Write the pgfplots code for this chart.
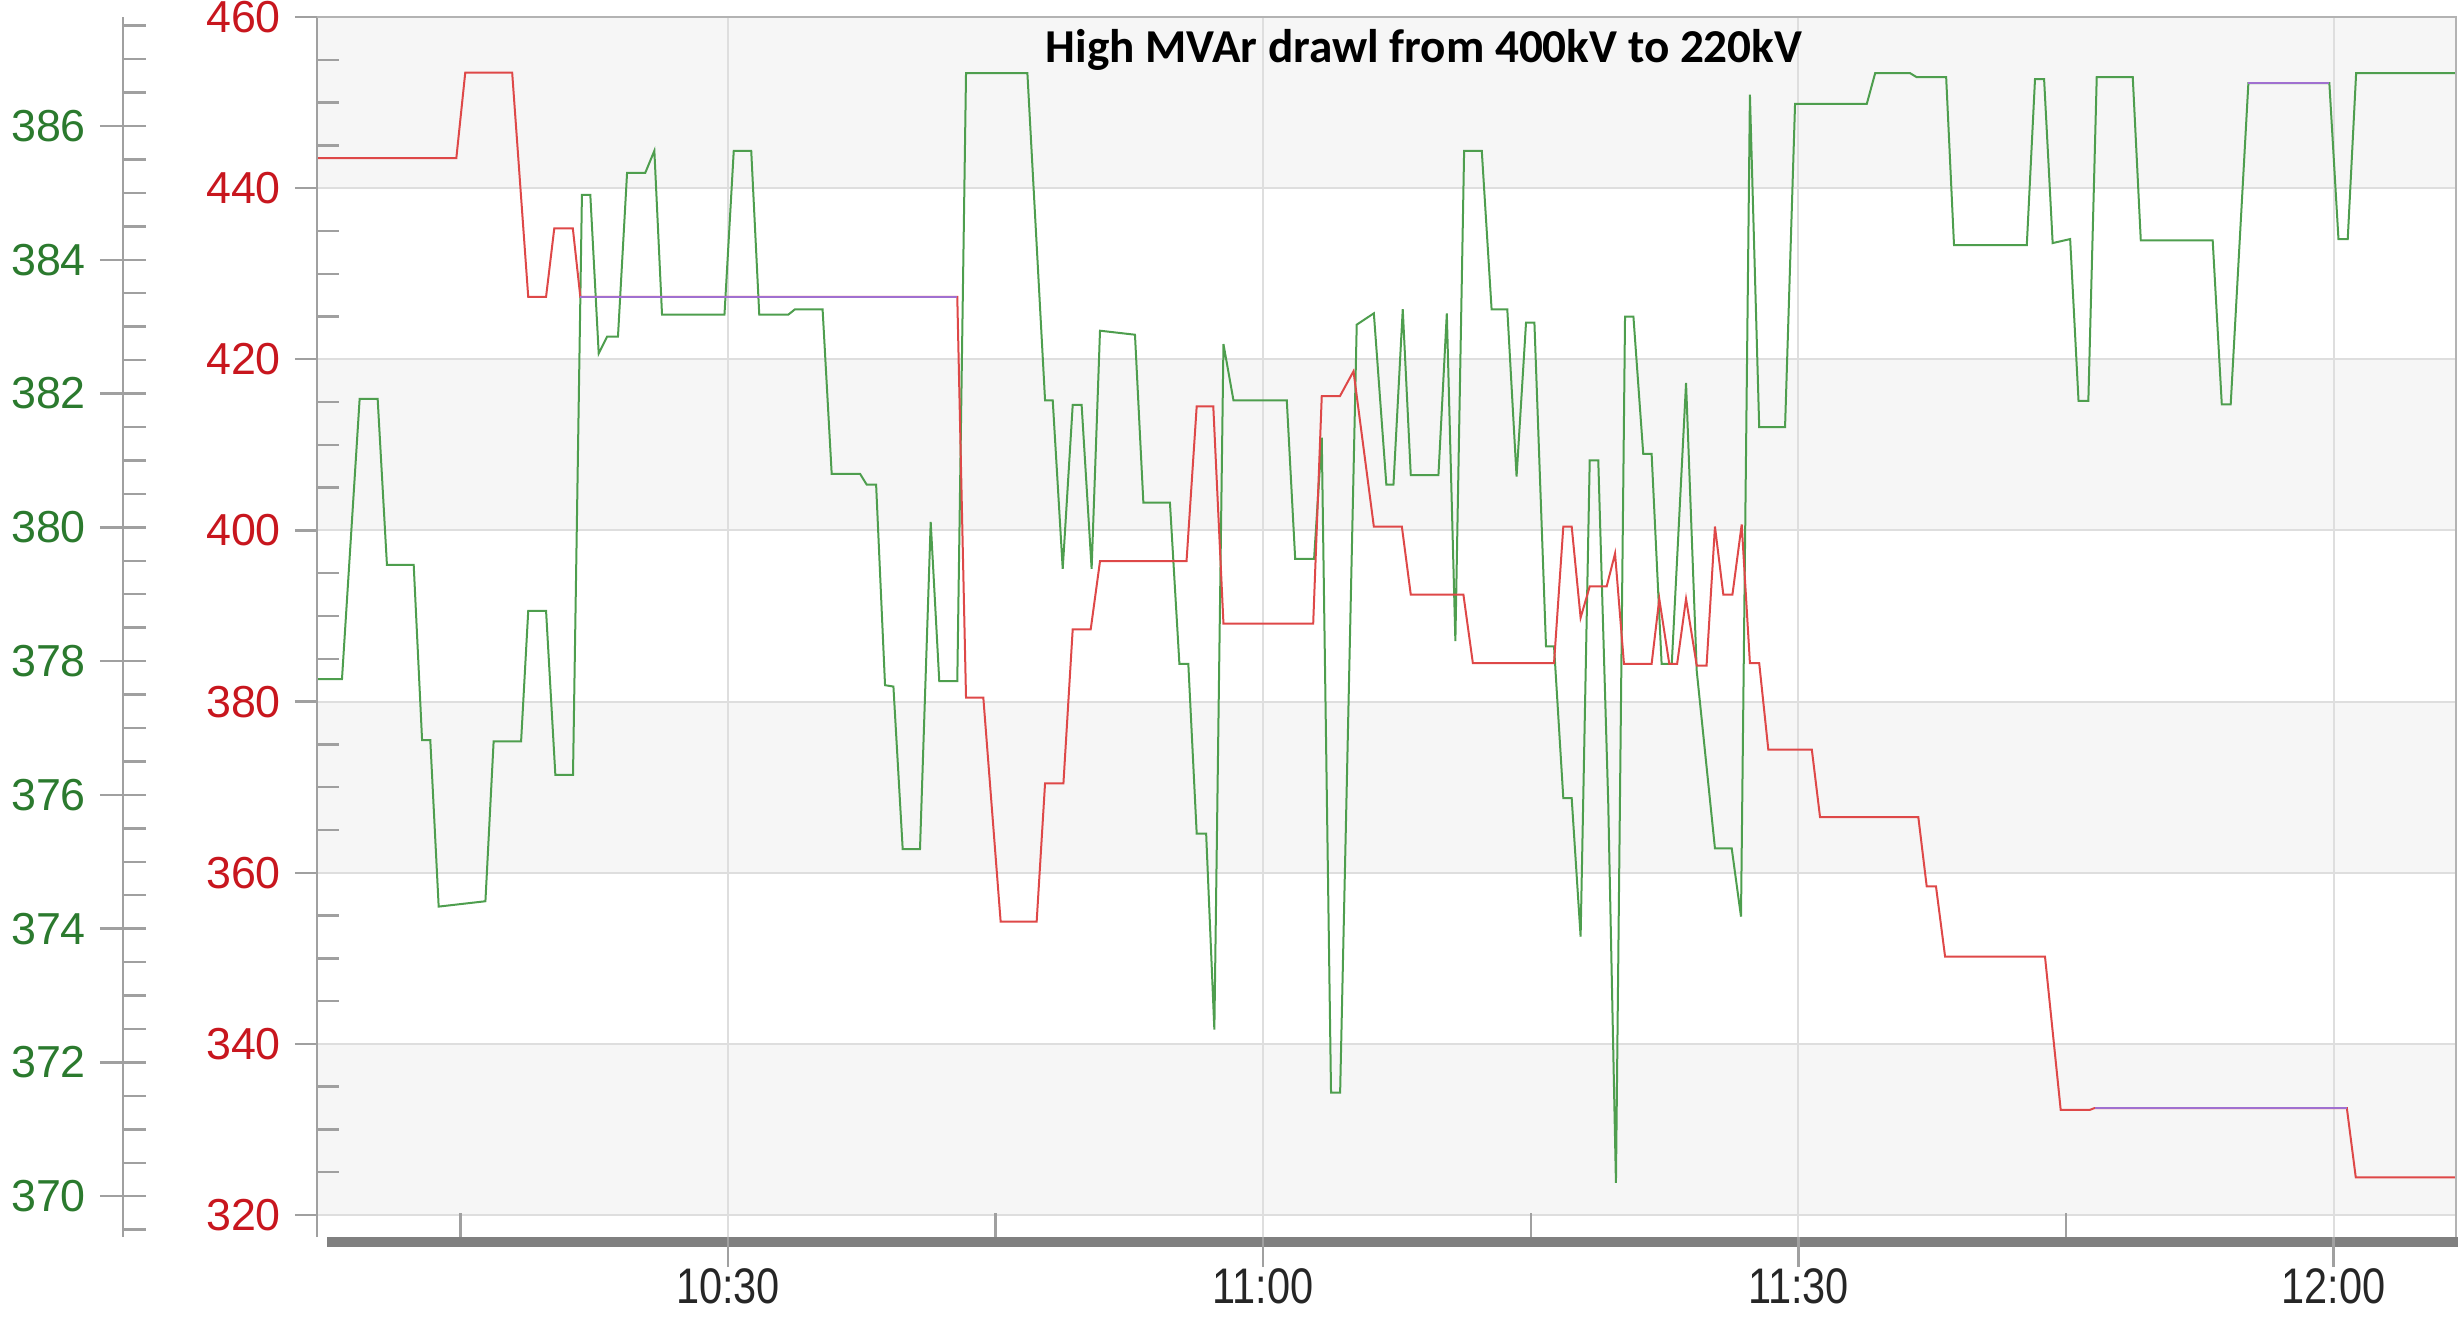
\documentclass[border=0pt]{standalone}
\usepackage{fontspec}
\setmainfont{Liberation Sans}
\newfontfamily\titlefont{Carlito}
\newfontfamily\narrowfont[FakeStretch=0.83]{Liberation Sans}
\usepackage{pgfplots}
\pgfplotsset{compat=1.18}

\definecolor{bandgray}{HTML}{F6F6F6}
\definecolor{gridgray}{HTML}{DEDEDE}
\definecolor{axisgray}{HTML}{A0A0A0}
\definecolor{barcol}{HTML}{808080}
\definecolor{redlab}{HTML}{C8161E}
\definecolor{greenlab}{HTML}{2B7A2E}
\definecolor{redline}{HTML}{DE4848}
\definecolor{greenline}{HTML}{4E9E4E}
\definecolor{purpleline}{HTML}{A070D0}

\pgfplotsset{
  base/.style={scale only axis, width=534.75pt, height=305pt, at={(79.25pt,20.5pt)}, anchor=south west, xmin=6.96, xmax=126.86, ymin=317.43, ymax=460},
  gbase/.style={scale only axis, width=534.75pt, height=305pt, at={(79.25pt,20.5pt)}, anchor=south west, xmin=6.96, xmax=126.86, ymin=369.39, ymax=387.63},
  labfont/.style={font=\fontsize{11.2}{13}\selectfont},
}

\begin{document}
\begin{tikzpicture}
\useasboundingbox (0,0) rectangle (614.5pt,329.75pt);

% background bands
\begin{axis}[base, hide axis]
\fill[bandgray] (axis cs:6.96,440) rectangle (axis cs:126.86,460);
\fill[bandgray] (axis cs:6.96,400) rectangle (axis cs:126.86,420);
\fill[bandgray] (axis cs:6.96,360) rectangle (axis cs:126.86,380);
\fill[bandgray] (axis cs:6.96,320) rectangle (axis cs:126.86,340);
\end{axis}

% grid
\begin{axis}[base, axis line style={draw=none}, tick style={draw=none},
  xtick={30,60,90,120}, ytick={320,340,...,460}, xticklabels={}, yticklabels={},
  xmajorgrids, ymajorgrids, major grid style={gridgray, line width=0.5pt}]
\end{axis}

% bottom bar
\fill[barcol] (81.75pt,18pt) rectangle (614.5pt,20.5pt);

% green data
\begin{axis}[gbase, hide axis]
\addplot[greenline, line width=0.5pt] coordinates {
(6.96,377.73) (8.36,377.73) (9.35,381.92) (10.36,381.92) (10.88,379.44) (12.38,379.44)
(12.85,376.82) (13.31,376.82) (13.78,374.33) (16.4,374.41) (16.86,376.8) (18.4,376.8)
(18.8,378.75) (19.8,378.75) (20.32,376.3) (21.31,376.3) (21.81,384.97) (22.28,384.97)
(22.75,382.6) (23.22,382.85) (23.83,382.85) (24.34,385.3) (25.36,385.3) (25.87,385.63)
(26.3,383.18) (29.8,383.18) (30.32,385.63) (31.3,385.63) (31.75,383.18) (33.38,383.18)
(33.75,383.26) (35.3,383.26) (35.81,380.8) (37.4,380.8) (37.77,380.64) (38.3,380.64)
(38.8,377.64) (39.27,377.62) (39.79,375.19) (40.76,375.19) (41.36,380.08) (41.84,377.7)
(42.85,377.7) (43.34,386.79) (46.78,386.79) (47.77,381.9) (48.2,381.9) (48.76,379.38)
(49.32,381.83) (49.82,381.83) (50.38,379.38) (50.85,382.94) (52.81,382.88) (53.28,380.37)
(54.77,380.37) (55.3,377.96) (55.8,377.96) (56.27,375.42) (56.8,375.42) (57.26,372.49)
(57.77,382.74) (58.33,381.9) (61.32,381.9) (61.79,379.53) (62.85,379.53) (63.28,381.34)
(63.8,371.55) (64.31,371.55) (65.24,383.03) (66.2,383.2) (66.9,380.64) (67.3,380.64)
(67.82,383.26) (68.27,380.78) (69.82,380.78) (70.29,383.2) (70.77,378.3) (71.26,385.63)
(72.25,385.63) (72.8,383.26) (73.68,383.26) (74.2,380.76) (74.73,383.06) (75.2,383.06)
(75.85,378.22) (76.3,378.22) (76.82,375.95) (77.29,375.95) (77.79,373.88) (78.3,381.0)
(78.78,381.0) (79.34,375.86) (79.77,370.2) (80.28,383.15) (80.75,383.15) (81.3,381.1)
(81.77,381.1) (82.33,377.96) (82.9,377.96) (83.7,382.16) (84.3,377.85) (85.32,375.2)
(86.26,375.2) (86.78,374.18) (87.28,386.47) (87.8,381.5) (89.25,381.5) (89.81,386.33)
(93.83,386.33) (94.3,386.79) (96.26,386.79) (96.63,386.73) (98.28,386.73) (98.72,384.22)
(102.8,384.22) (103.26,386.7) (103.77,386.7) (104.25,384.25) (105.23,384.31) (105.7,381.89)
(106.25,381.89) (106.72,386.73) (108.74,386.73) (109.19,384.29) (113.22,384.29) (113.73,381.84)
(114.23,381.84) (115.22,386.64) (119.76,386.64) (120.27,384.31) (120.79,384.31) (121.26,386.79)
(126.86,386.79)
};
\addplot[purpleline, line width=0.5pt] coordinates {(115.22,386.64) (119.76,386.64)};
\end{axis}

% red data
\begin{axis}[base, hide axis]
\addplot[redline, line width=0.5pt] coordinates {
(6.96,443.5) (14.77,443.5) (15.27,453.5) (17.9,453.5) (18.8,427.3) (19.8,427.3)
(20.26,435.3) (21.3,435.3) (21.72,427.3) (42.85,427.3) (43.34,380.45) (44.31,380.45)
(45.28,354.3) (47.3,354.3) (47.77,370.45) (48.8,370.45) (49.32,388.45) (50.33,388.45)
(50.85,396.4) (55.7,396.4) (56.27,414.5) (57.2,414.5) (57.77,389.1) (62.8,389.1)
(63.28,415.7) (64.3,415.7) (65.06,418.6) (66.2,400.45) (67.77,400.45) (68.27,392.5)
(71.22,392.5) (71.75,384.5) (76.3,384.5) (76.82,400.45) (77.29,400.45) (77.79,389.8)
(78.3,393.45) (79.25,393.45) (79.72,397.3) (80.22,384.4) (81.77,384.4) (82.2,392)
(82.76,384.4) (83.2,384.4) (83.7,392) (84.3,384.2) (84.85,384.2) (85.32,400.45)
(85.79,392.5) (86.3,392.5) (86.82,400.7) (87.28,384.5) (87.8,384.5) (88.31,374.4)
(90.75,374.4) (91.21,366.5) (96.72,366.5) (97.19,358.4) (97.71,358.4) (98.22,350.2)
(103.82,350.2) (104.7,332.3) (106.35,332.3) (106.6,332.5) (120.74,332.5) (121.24,324.4)
(126.86,324.4)
};
\addplot[purpleline, line width=0.5pt] coordinates {(21.72,427.3) (42.85,427.3)};
\addplot[purpleline, line width=0.5pt] coordinates {(106.6,332.5) (120.74,332.5)};
\end{axis}

% red y axis with labels
\begin{axis}[base, clip=false, axis x line=none, axis y line*=left,
  axis line style={-, axisgray, line width=0.6pt},
  ytick={320,340,...,460}, yticklabels={320,340,360,380,400,420,440,460},
  tick align=outside, major tick length=5.5pt, tick style={axisgray, line width=0.6pt},
  yticklabel style={labfont, text=redlab}]
\draw[axisgray!80, line width=0.6pt] (rel axis cs:0,1) -- (rel axis cs:1,1) -- (rel axis cs:1,0);
\end{axis}

% red y minor ticks
\begin{axis}[base, axis x line=none, axis y line*=left, axis line style={draw=none},
  ytick={325,330,335,345,350,355,365,370,375,385,390,395,405,410,415,425,430,435,445,450,455},
  yticklabels={}, tick align=inside, major tick length=5.5pt,
  tick style={axisgray, line width=0.6pt}]
\end{axis}

% x major ticks and labels
\begin{axis}[base, axis y line=none, axis x line*=bottom, axis line style={draw=none},
  xtick={30,60,90,120}, xticklabels={10:30,11:00,11:30,12:00},
  tick align=outside, major tick length=7.5pt, tick style={axisgray, line width=0.6pt},
  xticklabel style={font=\narrowfont\fontsize{12.5}{14}\selectfont, text=black!85, yshift=3.2pt}]
\end{axis}

% x minor ticks
\begin{axis}[base, axis y line=none, axis x line*=bottom, axis line style={draw=none},
  xtick={15,45,75,105}, xticklabels={}, tick align=inside, major tick length=6pt,
  tick style={axisgray, line width=0.6pt}]
\end{axis}

% green ruler
\begin{axis}[scale only axis, width=10pt, height=305pt, at={(30.75pt,20.5pt)}, anchor=south west,
  xmin=0, xmax=1, ymin=369.39, ymax=387.63,
  axis x line=none, axis y line*=left, axis line style={-, axisgray, line width=0.6pt},
  ytick={370,372,...,386}, yticklabels={370,372,374,376,378,380,382,384,386},
  tick align=center, major tick length=11.5pt, tick style={axisgray, line width=0.6pt},
  yticklabel style={labfont, text=greenlab}]
\end{axis}

% green ruler minor ticks
\begin{axis}[scale only axis, width=10pt, height=305pt, at={(30.75pt,20.5pt)}, anchor=south west,
  xmin=0, xmax=1, ymin=369.39, ymax=387.63,
  axis x line=none, axis y line*=left, axis line style={draw=none},
  ytick={369.5,370.5,371,371.5,372.5,373,373.5,374.5,375,375.5,376.5,377,377.5,378.5,379,379.5,380.5,381,381.5,382.5,383,383.5,384.5,385,385.5,386.5,387,387.5},
  yticklabels={}, tick align=inside, major tick length=5.75pt,
  tick style={axisgray, line width=0.6pt}]
\end{axis}

% title
\node[font=\titlefont\bfseries\fontsize{11.8}{14}\selectfont, anchor=base] at (356pt,314pt) {High MVAr drawl from 400kV to 220kV};
\end{tikzpicture}
\end{document}
